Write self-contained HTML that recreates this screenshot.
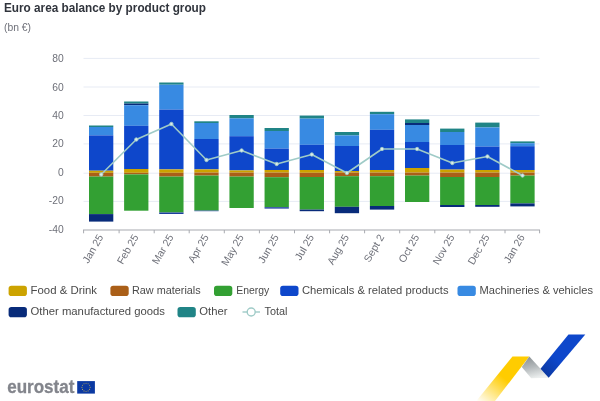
<!DOCTYPE html>
<html lang="en"><head><meta charset="utf-8"><title>Euro area balance by product group</title>
<style>html,body{margin:0;padding:0;background:#fff;width:600px;height:401px;overflow:hidden}svg text{white-space:pre}</style></head>
<body>
<svg role="img" aria-label="Euro area balance by product group" width="600" height="401" viewBox="0 0 600 401" style="display:block;position:absolute;left:0;top:0">
<defs><linearGradient id="yg" gradientUnits="userSpaceOnUse" x1="504" y1="378" x2="482" y2="405.7"><stop offset="0" stop-color="#FFCC00"/><stop offset="1" stop-color="#FFCC00" stop-opacity="0"/></linearGradient><linearGradient id="gg" x1="0.2" y1="0" x2="0.5" y2="1"><stop offset="0" stop-color="#8A9093"/><stop offset="0.5" stop-color="#B4B9BB"/><stop offset="1" stop-color="#ECEFEF"/></linearGradient><linearGradient id="bg" x1="1" y1="0" x2="0" y2="1"><stop offset="0" stop-color="#0E47CB"/><stop offset="0.6" stop-color="#0E47CB"/><stop offset="1" stop-color="#0B3597"/></linearGradient></defs>
<rect width="600" height="401" fill="#fff"/>
<text x="4" y="12.3" textLength="202" lengthAdjust="spacingAndGlyphs" font-family="'Liberation Sans', sans-serif" font-weight="bold" font-size="12.3" fill="#30343C">Euro area balance by product group</text>
<text x="4" y="30.6" textLength="27" lengthAdjust="spacingAndGlyphs" font-family="'Liberation Sans', sans-serif" font-size="10.6" fill="#6E7079">(bn €)</text>
<line x1="83.5" x2="539.5" y1="58.4" y2="58.4" stroke="#E7EBF4" stroke-width="1"/>
<line x1="83.5" x2="539.5" y1="87.0" y2="87.0" stroke="#E7EBF4" stroke-width="1"/>
<line x1="83.5" x2="539.5" y1="115.5" y2="115.5" stroke="#E7EBF4" stroke-width="1"/>
<line x1="83.5" x2="539.5" y1="143.9" y2="143.9" stroke="#E7EBF4" stroke-width="1"/>
<line x1="83.5" x2="539.5" y1="173.2" y2="173.2" stroke="#E7EBF4" stroke-width="1"/>
<line x1="83.5" x2="539.5" y1="201.4" y2="201.4" stroke="#E7EBF4" stroke-width="1"/>
<text x="63.7" y="62.0" text-anchor="end" font-family="'Liberation Sans', sans-serif" font-size="10.3" fill="#6E7079">80</text>
<text x="63.7" y="90.5" text-anchor="end" font-family="'Liberation Sans', sans-serif" font-size="10.3" fill="#6E7079">60</text>
<text x="63.7" y="118.9" text-anchor="end" font-family="'Liberation Sans', sans-serif" font-size="10.3" fill="#6E7079">40</text>
<text x="63.7" y="147.4" text-anchor="end" font-family="'Liberation Sans', sans-serif" font-size="10.3" fill="#6E7079">20</text>
<text x="63.7" y="175.9" text-anchor="end" font-family="'Liberation Sans', sans-serif" font-size="10.3" fill="#6E7079">0</text>
<text x="63.7" y="204.3" text-anchor="end" font-family="'Liberation Sans', sans-serif" font-size="10.3" fill="#6E7079">-20</text>
<text x="63.7" y="232.8" text-anchor="end" font-family="'Liberation Sans', sans-serif" font-size="10.3" fill="#6E7079">-40</text>
<rect x="89.00" y="125.50" width="24.3" height="1.50" fill="#208486"/>
<rect x="89.00" y="127.00" width="24.3" height="8.40" fill="#388AE2"/>
<rect x="89.00" y="135.40" width="24.3" height="35.30" fill="#0E47CB"/>
<rect x="89.00" y="170.70" width="24.3" height="2.10" fill="#CCA300"/>
<rect x="89.00" y="172.80" width="24.3" height="3.80" fill="#AA5F18"/>
<rect x="89.00" y="176.60" width="24.3" height="37.50" fill="#33A033"/>
<rect x="89.00" y="214.10" width="24.3" height="7.50" fill="#082B7A"/>
<rect x="124.11" y="101.50" width="24.3" height="2.10" fill="#208486"/>
<rect x="124.11" y="103.60" width="24.3" height="1.60" fill="#082B7A"/>
<rect x="124.11" y="105.20" width="24.3" height="20.60" fill="#388AE2"/>
<rect x="124.11" y="125.80" width="24.3" height="43.20" fill="#0E47CB"/>
<rect x="124.11" y="169.00" width="24.3" height="3.80" fill="#CCA300"/>
<rect x="124.11" y="172.80" width="24.3" height="1.60" fill="#AA5F18"/>
<rect x="124.11" y="174.40" width="24.3" height="36.30" fill="#33A033"/>
<rect x="159.22" y="82.50" width="24.3" height="2.20" fill="#208486"/>
<rect x="159.22" y="84.70" width="24.3" height="24.90" fill="#388AE2"/>
<rect x="159.22" y="109.60" width="24.3" height="59.80" fill="#0E47CB"/>
<rect x="159.22" y="169.40" width="24.3" height="3.40" fill="#CCA300"/>
<rect x="159.22" y="172.80" width="24.3" height="3.80" fill="#AA5F18"/>
<rect x="159.22" y="176.60" width="24.3" height="35.90" fill="#33A033"/>
<rect x="159.22" y="212.50" width="24.3" height="1.50" fill="#1D3F9E"/>
<rect x="194.33" y="121.30" width="24.3" height="1.70" fill="#208486"/>
<rect x="194.33" y="123.00" width="24.3" height="16.00" fill="#388AE2"/>
<rect x="194.33" y="139.00" width="24.3" height="30.40" fill="#0E47CB"/>
<rect x="194.33" y="169.40" width="24.3" height="3.20" fill="#CCA300"/>
<rect x="194.33" y="172.60" width="24.3" height="3.00" fill="#AA5F18"/>
<rect x="194.33" y="175.60" width="24.3" height="35.00" fill="#33A033"/>
<rect x="194.33" y="210.60" width="24.3" height="0.60" fill="#1D3F9E"/>
<rect x="229.44" y="115.00" width="24.3" height="3.30" fill="#208486"/>
<rect x="229.44" y="118.30" width="24.3" height="17.90" fill="#388AE2"/>
<rect x="229.44" y="136.20" width="24.3" height="34.20" fill="#0E47CB"/>
<rect x="229.44" y="170.40" width="24.3" height="2.20" fill="#CCA300"/>
<rect x="229.44" y="172.60" width="24.3" height="4.00" fill="#AA5F18"/>
<rect x="229.44" y="176.60" width="24.3" height="31.40" fill="#33A033"/>
<rect x="264.56" y="128.00" width="24.3" height="3.00" fill="#208486"/>
<rect x="264.56" y="131.00" width="24.3" height="17.60" fill="#388AE2"/>
<rect x="264.56" y="148.60" width="24.3" height="21.40" fill="#0E47CB"/>
<rect x="264.56" y="170.00" width="24.3" height="2.60" fill="#CCA300"/>
<rect x="264.56" y="172.60" width="24.3" height="4.60" fill="#AA5F18"/>
<rect x="264.56" y="177.20" width="24.3" height="30.00" fill="#33A033"/>
<rect x="264.56" y="207.20" width="24.3" height="1.40" fill="#1D3F9E"/>
<rect x="299.67" y="115.60" width="24.3" height="3.00" fill="#208486"/>
<rect x="299.67" y="118.60" width="24.3" height="26.20" fill="#388AE2"/>
<rect x="299.67" y="144.80" width="24.3" height="25.20" fill="#0E47CB"/>
<rect x="299.67" y="170.00" width="24.3" height="2.80" fill="#CCA300"/>
<rect x="299.67" y="172.80" width="24.3" height="4.20" fill="#AA5F18"/>
<rect x="299.67" y="177.00" width="24.3" height="32.60" fill="#33A033"/>
<rect x="299.67" y="209.60" width="24.3" height="1.60" fill="#082B7A"/>
<rect x="334.78" y="132.00" width="24.3" height="3.40" fill="#208486"/>
<rect x="334.78" y="135.40" width="24.3" height="10.60" fill="#388AE2"/>
<rect x="334.78" y="146.00" width="24.3" height="25.00" fill="#0E47CB"/>
<rect x="334.78" y="171.00" width="24.3" height="1.60" fill="#CCA300"/>
<rect x="334.78" y="172.60" width="24.3" height="3.60" fill="#AA5F18"/>
<rect x="334.78" y="176.20" width="24.3" height="30.60" fill="#33A033"/>
<rect x="334.78" y="206.80" width="24.3" height="6.40" fill="#082B7A"/>
<rect x="369.89" y="111.80" width="24.3" height="2.40" fill="#208486"/>
<rect x="369.89" y="114.20" width="24.3" height="15.60" fill="#388AE2"/>
<rect x="369.89" y="129.80" width="24.3" height="40.20" fill="#0E47CB"/>
<rect x="369.89" y="170.00" width="24.3" height="2.60" fill="#CCA300"/>
<rect x="369.89" y="172.60" width="24.3" height="3.60" fill="#AA5F18"/>
<rect x="369.89" y="176.20" width="24.3" height="29.80" fill="#33A033"/>
<rect x="369.89" y="206.00" width="24.3" height="3.60" fill="#082B7A"/>
<rect x="405.00" y="119.40" width="24.3" height="3.60" fill="#208486"/>
<rect x="405.00" y="123.00" width="24.3" height="2.00" fill="#082B7A"/>
<rect x="405.00" y="125.00" width="24.3" height="17.00" fill="#388AE2"/>
<rect x="405.00" y="142.00" width="24.3" height="26.00" fill="#0E47CB"/>
<rect x="405.00" y="168.00" width="24.3" height="4.60" fill="#CCA300"/>
<rect x="405.00" y="172.60" width="24.3" height="3.00" fill="#AA5F18"/>
<rect x="405.00" y="175.60" width="24.3" height="26.40" fill="#33A033"/>
<rect x="440.11" y="128.60" width="24.3" height="3.40" fill="#208486"/>
<rect x="440.11" y="132.00" width="24.3" height="13.00" fill="#388AE2"/>
<rect x="440.11" y="145.00" width="24.3" height="24.60" fill="#0E47CB"/>
<rect x="440.11" y="169.60" width="24.3" height="3.00" fill="#CCA300"/>
<rect x="440.11" y="172.60" width="24.3" height="4.40" fill="#AA5F18"/>
<rect x="440.11" y="177.00" width="24.3" height="28.00" fill="#33A033"/>
<rect x="440.11" y="205.00" width="24.3" height="2.00" fill="#082B7A"/>
<rect x="475.22" y="122.60" width="24.3" height="4.80" fill="#208486"/>
<rect x="475.22" y="127.40" width="24.3" height="19.20" fill="#388AE2"/>
<rect x="475.22" y="146.60" width="24.3" height="23.40" fill="#0E47CB"/>
<rect x="475.22" y="170.00" width="24.3" height="2.60" fill="#CCA300"/>
<rect x="475.22" y="172.60" width="24.3" height="4.40" fill="#AA5F18"/>
<rect x="475.22" y="177.00" width="24.3" height="28.00" fill="#33A033"/>
<rect x="475.22" y="205.00" width="24.3" height="1.80" fill="#082B7A"/>
<rect x="510.33" y="141.40" width="24.3" height="1.80" fill="#208486"/>
<rect x="510.33" y="143.20" width="24.3" height="3.00" fill="#388AE2"/>
<rect x="510.33" y="146.20" width="24.3" height="23.80" fill="#0E47CB"/>
<rect x="510.33" y="170.00" width="24.3" height="2.60" fill="#CCA300"/>
<rect x="510.33" y="172.60" width="24.3" height="3.00" fill="#AA5F18"/>
<rect x="510.33" y="175.60" width="24.3" height="27.80" fill="#33A033"/>
<rect x="510.33" y="203.40" width="24.3" height="3.00" fill="#082B7A"/>
<line x1="83.0" x2="540.0" y1="230.0" y2="230.0" stroke="#A8AAB0" stroke-width="1.2"/>
<line x1="83.6" x2="83.6" y1="230.0" y2="233.3" stroke="#A8AAB0" stroke-width="1"/>
<line x1="119.1" x2="119.1" y1="230.0" y2="233.3" stroke="#A8AAB0" stroke-width="1"/>
<line x1="154.2" x2="154.2" y1="230.0" y2="233.3" stroke="#A8AAB0" stroke-width="1"/>
<line x1="189.2" x2="189.2" y1="230.0" y2="233.3" stroke="#A8AAB0" stroke-width="1"/>
<line x1="224.3" x2="224.3" y1="230.0" y2="233.3" stroke="#A8AAB0" stroke-width="1"/>
<line x1="259.4" x2="259.4" y1="230.0" y2="233.3" stroke="#A8AAB0" stroke-width="1"/>
<line x1="294.5" x2="294.5" y1="230.0" y2="233.3" stroke="#A8AAB0" stroke-width="1"/>
<line x1="329.6" x2="329.6" y1="230.0" y2="233.3" stroke="#A8AAB0" stroke-width="1"/>
<line x1="364.6" x2="364.6" y1="230.0" y2="233.3" stroke="#A8AAB0" stroke-width="1"/>
<line x1="399.7" x2="399.7" y1="230.0" y2="233.3" stroke="#A8AAB0" stroke-width="1"/>
<line x1="434.8" x2="434.8" y1="230.0" y2="233.3" stroke="#A8AAB0" stroke-width="1"/>
<line x1="469.9" x2="469.9" y1="230.0" y2="233.3" stroke="#A8AAB0" stroke-width="1"/>
<line x1="505.0" x2="505.0" y1="230.0" y2="233.3" stroke="#A8AAB0" stroke-width="1"/>
<line x1="539.6" x2="539.6" y1="230.0" y2="233.3" stroke="#A8AAB0" stroke-width="1"/>
<text transform="translate(100.6,235.1) rotate(-60)" text-anchor="end" dy="0.35em" font-family="'Liberation Sans', sans-serif" font-size="10.4" fill="#6E7079">Jan 25</text>
<text transform="translate(135.7,235.1) rotate(-60)" text-anchor="end" dy="0.35em" font-family="'Liberation Sans', sans-serif" font-size="10.4" fill="#6E7079">Feb 25</text>
<text transform="translate(170.8,235.1) rotate(-60)" text-anchor="end" dy="0.35em" font-family="'Liberation Sans', sans-serif" font-size="10.4" fill="#6E7079">Mar 25</text>
<text transform="translate(205.9,235.1) rotate(-60)" text-anchor="end" dy="0.35em" font-family="'Liberation Sans', sans-serif" font-size="10.4" fill="#6E7079">Apr 25</text>
<text transform="translate(241.0,235.1) rotate(-60)" text-anchor="end" dy="0.35em" font-family="'Liberation Sans', sans-serif" font-size="10.4" fill="#6E7079">May 25</text>
<text transform="translate(276.1,235.1) rotate(-60)" text-anchor="end" dy="0.35em" font-family="'Liberation Sans', sans-serif" font-size="10.4" fill="#6E7079">Jun 25</text>
<text transform="translate(311.2,235.1) rotate(-60)" text-anchor="end" dy="0.35em" font-family="'Liberation Sans', sans-serif" font-size="10.4" fill="#6E7079">Jul 25</text>
<text transform="translate(346.3,235.1) rotate(-60)" text-anchor="end" dy="0.35em" font-family="'Liberation Sans', sans-serif" font-size="10.4" fill="#6E7079">Aug 25</text>
<text transform="translate(381.4,235.1) rotate(-60)" text-anchor="end" dy="0.35em" font-family="'Liberation Sans', sans-serif" font-size="10.4" fill="#6E7079">Sept 2</text>
<text transform="translate(416.5,235.1) rotate(-60)" text-anchor="end" dy="0.35em" font-family="'Liberation Sans', sans-serif" font-size="10.4" fill="#6E7079">Oct 25</text>
<text transform="translate(451.7,235.1) rotate(-60)" text-anchor="end" dy="0.35em" font-family="'Liberation Sans', sans-serif" font-size="10.4" fill="#6E7079">Nov 25</text>
<text transform="translate(486.8,235.1) rotate(-60)" text-anchor="end" dy="0.35em" font-family="'Liberation Sans', sans-serif" font-size="10.4" fill="#6E7079">Dec 25</text>
<text transform="translate(521.9,235.1) rotate(-60)" text-anchor="end" dy="0.35em" font-family="'Liberation Sans', sans-serif" font-size="10.4" fill="#6E7079">Jan 26</text>
<polyline points="101.2,174.5 136.3,139.5 171.4,124 206.5,160 241.6,150.5 276.7,164 311.8,154.5 346.9,173 382.0,149 417.1,149 452.3,163 487.4,156.5 522.5,175.5" fill="none" stroke="#9FCBC7" stroke-width="1.6" stroke-linejoin="round"/>
<circle cx="101.2" cy="174.5" r="1.7" fill="#DCEBEA" stroke="#9FCBC7" stroke-width="0.9"/>
<circle cx="136.3" cy="139.5" r="1.7" fill="#DCEBEA" stroke="#9FCBC7" stroke-width="0.9"/>
<circle cx="171.4" cy="124" r="1.7" fill="#DCEBEA" stroke="#9FCBC7" stroke-width="0.9"/>
<circle cx="206.5" cy="160" r="1.7" fill="#DCEBEA" stroke="#9FCBC7" stroke-width="0.9"/>
<circle cx="241.6" cy="150.5" r="1.7" fill="#DCEBEA" stroke="#9FCBC7" stroke-width="0.9"/>
<circle cx="276.7" cy="164" r="1.7" fill="#DCEBEA" stroke="#9FCBC7" stroke-width="0.9"/>
<circle cx="311.8" cy="154.5" r="1.7" fill="#DCEBEA" stroke="#9FCBC7" stroke-width="0.9"/>
<circle cx="346.9" cy="173" r="1.7" fill="#DCEBEA" stroke="#9FCBC7" stroke-width="0.9"/>
<circle cx="382.0" cy="149" r="1.7" fill="#DCEBEA" stroke="#9FCBC7" stroke-width="0.9"/>
<circle cx="417.1" cy="149" r="1.7" fill="#DCEBEA" stroke="#9FCBC7" stroke-width="0.9"/>
<circle cx="452.3" cy="163" r="1.7" fill="#DCEBEA" stroke="#9FCBC7" stroke-width="0.9"/>
<circle cx="487.4" cy="156.5" r="1.7" fill="#DCEBEA" stroke="#9FCBC7" stroke-width="0.9"/>
<circle cx="522.5" cy="175.5" r="1.7" fill="#DCEBEA" stroke="#9FCBC7" stroke-width="0.9"/>
<rect x="8.6" y="285.8" width="18.3" height="10.2" rx="2.8" fill="#CCA300"/>
<text x="30.5" y="294.2" textLength="66.5" lengthAdjust="spacingAndGlyphs" font-family="'Liberation Sans', sans-serif" font-size="11.3" fill="#4A4A4A">Food &amp; Drink</text>
<rect x="110.4" y="285.8" width="18.3" height="10.2" rx="2.8" fill="#AA5F18"/>
<text x="132" y="294.2" textLength="68.7" lengthAdjust="spacingAndGlyphs" font-family="'Liberation Sans', sans-serif" font-size="11.3" fill="#4A4A4A">Raw materials</text>
<rect x="214" y="285.8" width="18.3" height="10.2" rx="2.8" fill="#33A033"/>
<text x="236.2" y="294.2" textLength="33" lengthAdjust="spacingAndGlyphs" font-family="'Liberation Sans', sans-serif" font-size="11.3" fill="#4A4A4A">Energy</text>
<rect x="280.2" y="285.8" width="18.3" height="10.2" rx="2.8" fill="#0E47CB"/>
<text x="302" y="294.2" textLength="146.5" lengthAdjust="spacingAndGlyphs" font-family="'Liberation Sans', sans-serif" font-size="11.3" fill="#4A4A4A">Chemicals &amp; related products</text>
<rect x="457.5" y="285.8" width="18.3" height="10.2" rx="2.8" fill="#388AE2"/>
<text x="479.5" y="294.2" textLength="113.5" lengthAdjust="spacingAndGlyphs" font-family="'Liberation Sans', sans-serif" font-size="11.3" fill="#4A4A4A">Machineries &amp; vehicles</text>
<rect x="8.6" y="307" width="18.3" height="10.2" rx="2.8" fill="#082B7A"/>
<text x="30.5" y="315.4" textLength="134.5" lengthAdjust="spacingAndGlyphs" font-family="'Liberation Sans', sans-serif" font-size="11.3" fill="#4A4A4A">Other manufactured goods</text>
<rect x="177.5" y="307" width="18.3" height="10.2" rx="2.8" fill="#208486"/>
<text x="199.3" y="315.4" textLength="28.2" lengthAdjust="spacingAndGlyphs" font-family="'Liberation Sans', sans-serif" font-size="11.3" fill="#4A4A4A">Other</text>
<line x1="242.5" x2="260" y1="312" y2="312" stroke="#9FCBC7" stroke-width="1.4"/>
<circle cx="251.2" cy="312" r="4" fill="#fff" stroke="#9FCBC7" stroke-width="1.4"/>
<text x="264.5" y="315.4" textLength="23" lengthAdjust="spacingAndGlyphs" font-family="'Liberation Sans', sans-serif" font-size="11.3" fill="#4A4A4A">Total</text>
<text x="7.2" y="393.0" textLength="67.2" lengthAdjust="spacingAndGlyphs" font-family="'Liberation Sans', sans-serif" font-weight="bold" font-size="17.5" fill="#83858C" stroke="#83858C" stroke-width="0.3">eurostat</text>
<rect x="77.2" y="381.1" width="17.7" height="12.5" fill="#0B39A2"/>
<circle cx="86.05" cy="383.25" r="0.55" fill="#D9BC4A" fill-opacity="0.8"/>
<circle cx="88.10" cy="383.80" r="0.55" fill="#D9BC4A" fill-opacity="0.8"/>
<circle cx="89.60" cy="385.30" r="0.55" fill="#D9BC4A" fill-opacity="0.8"/>
<circle cx="90.15" cy="387.35" r="0.55" fill="#D9BC4A" fill-opacity="0.8"/>
<circle cx="89.60" cy="389.40" r="0.55" fill="#D9BC4A" fill-opacity="0.8"/>
<circle cx="88.10" cy="390.90" r="0.55" fill="#D9BC4A" fill-opacity="0.8"/>
<circle cx="86.05" cy="391.45" r="0.55" fill="#D9BC4A" fill-opacity="0.8"/>
<circle cx="84.00" cy="390.90" r="0.55" fill="#D9BC4A" fill-opacity="0.8"/>
<circle cx="82.50" cy="389.40" r="0.55" fill="#D9BC4A" fill-opacity="0.8"/>
<circle cx="81.95" cy="387.35" r="0.55" fill="#D9BC4A" fill-opacity="0.8"/>
<circle cx="82.50" cy="385.30" r="0.55" fill="#D9BC4A" fill-opacity="0.8"/>
<circle cx="84.00" cy="383.80" r="0.55" fill="#D9BC4A" fill-opacity="0.8"/>
<polygon points="512.5,356.5 529.3,356.5 495,401 476.3,401" fill="url(#yg)"/>
<polygon points="529.3,356.5 548.7,377.7 531.2,378.2 521.8,367" fill="url(#gg)"/>
<polygon points="568.5,334.5 585.3,334.5 548.7,377.7 540.5,368.8" fill="url(#bg)"/>
</svg>
</body></html>
